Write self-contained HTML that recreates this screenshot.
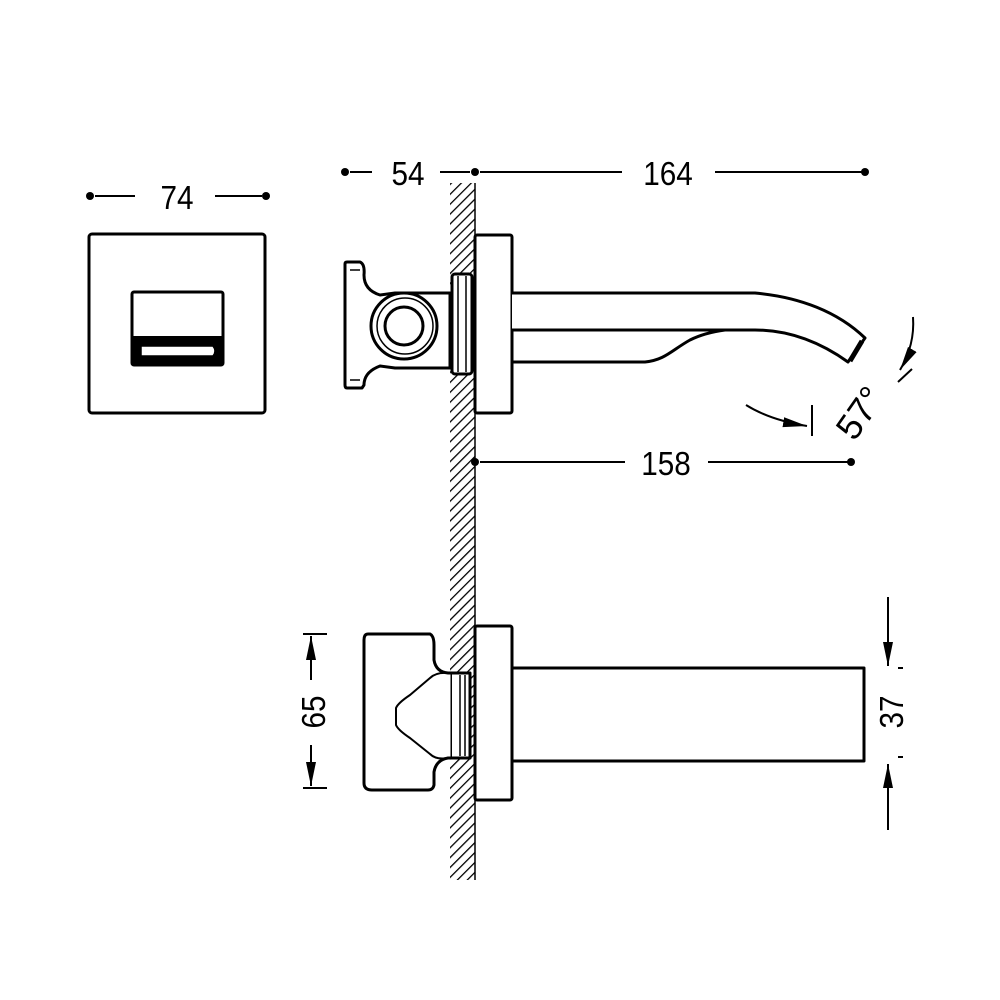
<!DOCTYPE html>
<html><head><meta charset="utf-8"><style>html,body{margin:0;padding:0;background:#fff}svg{display:block}text{font-family:"Liberation Sans",sans-serif;font-size:33px;fill:#000}</style></head>
<body>
<svg width="1000" height="1000" viewBox="0 0 1000 1000" xmlns="http://www.w3.org/2000/svg">
<defs>
<pattern id="h" width="7" height="7" patternUnits="userSpaceOnUse" patternTransform="rotate(45)">
<rect width="7" height="7" fill="#fff"/><line x1="0" y1="0" x2="0" y2="7" stroke="#000" stroke-width="2.6"/></pattern>
<marker id="b" viewBox="0 0 24 12" markerWidth="24" markerHeight="12" refX="24" refY="6" orient="auto" markerUnits="userSpaceOnUse"><path d="M0,1 L24,6 L0,11z" fill="#000"/></marker>
</defs>
<g stroke="#000" fill="none" stroke-width="3" stroke-linejoin="round">
<rect x="450" y="183" width="25" height="697" fill="url(#h)" stroke="none"/>
<line x1="475" y1="183" x2="475" y2="880" stroke-width="1.5"/>
<rect x="89" y="234" width="176" height="179" rx="3" fill="#fff"/>
<rect x="132" y="292" width="91" height="73" rx="2" fill="#fff"/>
<line x1="132" y1="338" x2="223" y2="338" stroke-width="4"/>
<rect x="133" y="338" width="89" height="27" fill="#000" stroke="none"/>
<path d="M141,346 L213,346 Q217,351 213,356 L141,356 Z" fill="#fff" stroke-width="1.5"/>
<rect x="475" y="235" width="37" height="178" rx="2" fill="#fff"/>
<path d="M512,293 L755,293 C800,297 838,312 865,338 L848,362 C820,342 790,330 755,330 L512,330" fill="#fff"/>
<path d="M512,362 L645,362 C665,360 672,350 690,340 C700,335 710,332 725,330"/>
<path d="M850,361 L862,341" stroke-width="5"/>
<path d="M347,262 L360,262 Q365,264 364,275 Q364,290 380,295 L395,293 L450,293 L450,368 L395,368 L380,366 Q364,372 364,385 L362,388 L347,388 Q345,388 345,385 L345,264 Q345,262 347,262Z" fill="#fff"/>
<circle cx="404" cy="326" r="33" fill="#fff"/>
<circle cx="405" cy="326" r="28" stroke-width="1.5"/>
<circle cx="404" cy="326" r="19" stroke-width="3"/>
<line x1="350" y1="270" x2="360" y2="270" stroke-width="1.5"/>
<line x1="350" y1="380" x2="360" y2="380" stroke-width="1.5"/>
<rect x="452" y="274" width="20" height="100" rx="3" fill="#fff"/>
<line x1="458" y1="276" x2="458" y2="372" stroke-width="1.5"/>
<line x1="466" y1="276" x2="466" y2="372" stroke-width="1.5"/>
<rect x="475" y="626" width="37" height="174" rx="2" fill="#fff"/>
<rect x="512" y="668" width="352" height="93" fill="#fff"/>
<path d="M368,634 L430,634 Q434,636 434,645 L434,660 Q436,672 448,673 L452,673 L452,758 L448,758 Q436,760 434,772 L434,785 Q433,790 428,790 L372,790 Q364,790 364,783 L364,640 Q364,634 368,634Z" fill="#fff"/>
<path d="M448,673 Q436,672 430,678 L410,695 Q398,703 396,708 L396,725 Q398,730 410,738 L430,754 Q436,760 448,758" stroke-width="2"/>
<path d="M452,673 L470,673 L470,758 L452,758" fill="#fff"/>
<line x1="460" y1="675" x2="460" y2="756" stroke-width="1.5"/>
<line x1="465" y1="675" x2="465" y2="756" stroke-width="1.5"/>
</g>
<g stroke="#000" stroke-width="2" fill="none">
<line x1="95" y1="196" x2="135" y2="196"/><line x1="215" y1="196" x2="262" y2="196"/>
<line x1="350" y1="172" x2="372" y2="172"/><line x1="440" y1="172" x2="470" y2="172"/>
<line x1="480" y1="172" x2="622" y2="172"/><line x1="715" y1="172" x2="862" y2="172"/>
<line x1="480" y1="462" x2="625" y2="462"/><line x1="708" y1="462" x2="848" y2="462"/>
<line x1="303" y1="634" x2="327" y2="634"/><line x1="303" y1="788" x2="327" y2="788"/>
<line x1="311" y1="680" x2="311" y2="636" marker-end="url(#b)"/>
<line x1="311" y1="745" x2="311" y2="786" marker-end="url(#b)"/>
<line x1="888" y1="597" x2="888" y2="666" marker-end="url(#b)"/>
<line x1="888" y1="830" x2="888" y2="764" marker-end="url(#b)"/>
<line x1="898" y1="668" x2="903" y2="668"/><line x1="898" y1="757" x2="903" y2="757"/>
<path d="M746,405 Q770,420 807,426" marker-end="url(#b)"/>
<line x1="812" y1="405" x2="812" y2="436"/>
<path d="M913,317 Q915,345 900,370" marker-end="url(#b)"/>
<line x1="898" y1="382" x2="912" y2="369"/>
</g>
<g fill="#000">
<circle cx="90" cy="196" r="4"/><circle cx="266" cy="196" r="4"/>
<circle cx="345" cy="172" r="4"/><circle cx="475" cy="172" r="4"/><circle cx="865" cy="172" r="4"/>
<circle cx="475" cy="462" r="4"/><circle cx="851" cy="462" r="4"/>
</g>
<g transform="scale(0.9,1)">
<text x="196.7" y="209" text-anchor="middle">74</text>
<text x="453.3" y="185" text-anchor="middle">54</text>
<text x="742.2" y="185" text-anchor="middle">164</text>
<text x="740" y="475" text-anchor="middle">158</text>
</g>
<text transform="translate(325,712) rotate(-90) scale(0.9,1)" text-anchor="middle">65</text>
<text transform="translate(903,712) rotate(-90) scale(0.9,1)" text-anchor="middle">37</text>
<text transform="translate(870,420) rotate(-55)" text-anchor="middle" style="font-size:36px">57°</text>
</svg>
</body></html>
